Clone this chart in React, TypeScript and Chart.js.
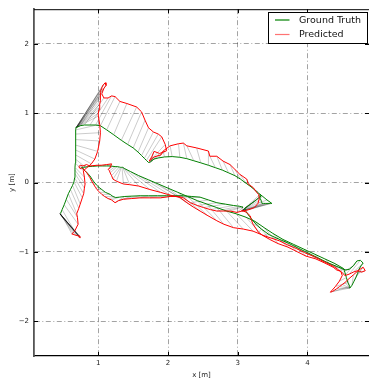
import React, { useEffect, useRef } from 'react';
import { Chart, registerables } from 'chart.js';

Chart.register(...registerables);

// ---- data (metres) ----
const xTicks = [1, 2, 3, 4];
const yTicks = [-2, -1, 0, 1, 2];
const xRange = [0.077, 4.884];
const yRange = [-2.5, 2.5];
const seriesNames = ['Ground Truth', 'Predicted'];

// ground-truth trajectory (matched sample-by-sample with predicted)
const groundTruth: [number, number][] = [
  // start, left vertical
  [0.45,-0.45],[0.45,-0.45],[0.45,-0.45],[0.45,-0.45],[0.45,-0.45],[0.45,-0.45],[0.45,-0.45],[0.45,-0.45],[0.45,-0.45],[0.45,-0.45],
  [0.45,-0.45],[0.45,-0.45],[0.45,-0.45],[0.46,-0.44],[0.48,-0.39],[0.51,-0.32],[0.54,-0.24],[0.57,-0.16],
  [0.60,-0.10],[0.63,-0.04],[0.65,0.01],[0.66,0.07],[0.665,0.13],[0.665,0.18],[0.665,0.22],[0.67,0.28],[0.67,0.34],[0.672,0.40],
  [0.674,0.47],[0.676,0.54],[0.677,0.62],[0.678,0.70],[0.679,0.76],[0.68,0.79],[0.68,0.79],[0.68,0.79],[0.68,0.79],[0.68,0.79],
  [0.68,0.79],[0.68,0.79],[0.68,0.79],[0.68,0.79],[0.68,0.79],[0.68,0.79],[0.68,0.79],[0.68,0.79],[0.69,0.795],
  // upper curve
  [0.70,0.80],[0.74,0.82],[0.80,0.83],[0.88,0.83],[0.96,0.83],[1.03,0.82],[1.12,0.76],[1.22,0.69],[1.33,0.61],[1.42,0.55],
  [1.50,0.50],[1.57,0.44],[1.62,0.39],[1.66,0.35],[1.69,0.32],[1.72,0.29],[1.73,0.29],[1.74,0.29],[1.75,0.30],[1.76,0.31],
  [1.77,0.32],[1.80,0.34],[1.86,0.355],[1.95,0.37],[2.06,0.375],[2.17,0.365],[2.27,0.345],[2.37,0.315],[2.47,0.285],[2.58,0.25],
  [2.68,0.215],[2.78,0.18],[2.87,0.14],[2.96,0.10],[3.04,0.05],[3.12,-0.01],[3.19,-0.06],[3.25,-0.11],[3.30,-0.15],[3.32,-0.17],[3.32,-0.17],
  // triangle
  [3.36,-0.20],[3.42,-0.25],[3.49,-0.30],[3.47,-0.30],[3.45,-0.30],[3.42,-0.30],[3.40,-0.30],[3.37,-0.30],[3.35,-0.30],[3.34,-0.27],
  [3.33,-0.24],[3.32,-0.20],[3.32,-0.17],[3.34,-0.19],[3.30,-0.22],[3.27,-0.25],[3.24,-0.27],[3.17,-0.32],[3.10,-0.37],
  // down to bottom right
  [3.12,-0.42],[3.17,-0.49],[3.22,-0.55],[3.28,-0.62],[3.34,-0.67],[3.45,-0.75],[3.58,-0.81],[3.72,-0.87],[3.86,-0.94],[4.00,-1.01],
  [4.14,-1.08],[4.28,-1.15],[4.40,-1.20],[4.50,-1.24],
  // bottom-right cluster
  [4.55,-1.26],[4.60,-1.25],[4.66,-1.20],[4.71,-1.13],[4.76,-1.12],[4.80,-1.16],[4.77,-1.20],[4.74,-1.25],[4.72,-1.31],[4.70,-1.36],
  [4.67,-1.42],[4.64,-1.48],[4.61,-1.52],[4.61,-1.52],[4.61,-1.52],[4.61,-1.52],[4.61,-1.52],[4.61,-1.52],[4.60,-1.50],[4.58,-1.44],
  [4.56,-1.37],[4.54,-1.30],[4.52,-1.24],
  // back up-left
  [4.40,-1.17],[4.25,-1.10],[4.10,-1.03],[3.95,-0.96],[3.80,-0.89],[3.65,-0.82],[3.50,-0.73],[3.38,-0.65],[3.25,-0.56],[3.12,-0.50],
  [2.98,-0.45],[2.84,-0.41],[2.70,-0.36],[2.56,-0.31],[2.42,-0.26],[2.28,-0.20],[2.14,-0.14],[2.00,-0.08],[1.86,-0.02],[1.72,0.04],
  [1.58,0.10],[1.46,0.16],[1.38,0.20],[1.35,0.22],[1.35,0.22],[1.34,0.22],[1.33,0.22],[1.32,0.22],[1.30,0.225],[1.27,0.23],[1.24,0.23],[1.21,0.235],
  // short horizontal
  [1.17,0.24],[1.12,0.24],[1.06,0.24],[0.99,0.24],[0.92,0.235],[0.85,0.23],[0.79,0.22],[0.76,0.22],[0.76,0.22],[0.76,0.22],[0.77,0.21],
  // lower horizontal
  [0.78,0.20],[0.81,0.17],[0.85,0.13],[0.88,0.096],[0.91,0.05],[0.93,0.02],[0.97,-0.03],[1.01,-0.07],[1.05,-0.10],[1.10,-0.14],
  [1.17,-0.17],[1.21,-0.20],[1.25,-0.215],[1.30,-0.21],[1.38,-0.20],[1.48,-0.195],[1.60,-0.19],[1.72,-0.19],[1.85,-0.19],[1.98,-0.19],
  [2.10,-0.19],[2.22,-0.19],[2.34,-0.20],[2.46,-0.21],[2.58,-0.25],[2.70,-0.29],[2.82,-0.31],[2.94,-0.33],[3.02,-0.34],[3.06,-0.35],
  [3.07,-0.35],[3.07,-0.36],[3.07,-0.36],
];

const predicted: [number, number][] = [
  [0.74,-0.80],[0.74,-0.79],[0.74,-0.79],[0.73,-0.79],[0.74,-0.78],[0.73,-0.78],[0.73,-0.78],[0.72,-0.78],[0.73,-0.77],[0.72,-0.77],
  [0.71,-0.77],[0.68,-0.76],[0.65,-0.75],[0.62,-0.74],[0.66,-0.70],[0.71,-0.60],[0.70,-0.50],[0.69,-0.45],
  [0.72,-0.37],[0.74,-0.31],[0.77,-0.22],[0.79,-0.16],[0.80,-0.08],[0.81,-0.02],[0.80,0.08],[0.785,0.17],[0.83,0.21],[0.90,0.27],
  [0.95,0.34],[0.99,0.45],[1.02,0.60],[1.03,0.72],[1.02,0.84],[1.00,0.96],[1.00,1.00],[1.01,1.05],[1.02,1.09],[1.02,1.13],
  [1.03,1.18],[1.03,1.22],[1.03,1.26],[1.03,1.30],[1.04,1.34],[1.05,1.37],[1.07,1.41],[1.10,1.44],[1.11,1.40],
  [1.08,1.36],[1.05,1.28],[1.08,1.22],[1.14,1.22],[1.19,1.25],[1.24,1.24],[1.31,1.17],[1.41,1.14],[1.55,1.09],[1.62,1.02],
  [1.67,0.90],[1.72,0.79],[1.79,0.73],[1.86,0.70],[1.91,0.66],[1.96,0.55],[1.98,0.46],[1.88,0.42],[1.80,0.45],[1.77,0.38],
  [1.73,0.31],[1.80,0.37],[1.90,0.40],[1.93,0.455],[2.03,0.53],[2.15,0.56],[2.22,0.57],[2.27,0.53],[2.41,0.50],[2.58,0.455],
  [2.60,0.38],[2.70,0.38],[2.79,0.31],[2.89,0.26],[2.96,0.19],[3.03,0.12],[3.13,0.05],[3.15,-0.02],[3.22,-0.07],[3.27,-0.14],[3.30,-0.17],
  [3.31,-0.23],[3.29,-0.30],[3.24,-0.36],[3.16,-0.39],[3.08,-0.41],[3.06,-0.41],[3.06,-0.41],[3.06,-0.41],[3.06,-0.41],[3.06,-0.41],
  [3.06,-0.41],[3.06,-0.41],[3.06,-0.41],[3.06,-0.41],[3.06,-0.41],[3.06,-0.41],[3.06,-0.40],[3.07,-0.40],[3.08,-0.41],
  [3.13,-0.43],[3.18,-0.48],[3.20,-0.55],[3.22,-0.60],[3.30,-0.72],[3.36,-0.76],[3.48,-0.80],[3.60,-0.84],[3.72,-0.90],[3.84,-0.95],
  [3.96,-1.01],[4.08,-1.06],[4.18,-1.11],[4.28,-1.16],
  [4.38,-1.21],[4.45,-1.26],[4.50,-1.30],[4.54,-1.34],[4.60,-1.32],[4.66,-1.29],[4.72,-1.27],[4.78,-1.29],[4.83,-1.27],[4.80,-1.22],
  [4.74,-1.26],[4.66,-1.33],[4.58,-1.40],[4.54,-1.44],[4.50,-1.47],[4.46,-1.50],[4.42,-1.53],[4.36,-1.57],[4.33,-1.58],[4.40,-1.50],
  [4.46,-1.42],[4.50,-1.34],[4.48,-1.28],
  [4.42,-1.26],[4.37,-1.22],[4.25,-1.16],[4.12,-1.10],[3.98,-1.06],[3.86,-1.00],[3.72,-0.93],[3.58,-0.88],[3.46,-0.82],[3.34,-0.75],
  [3.22,-0.70],[3.08,-0.67],[2.94,-0.65],[2.80,-0.60],[2.70,-0.55],[2.56,-0.47],[2.46,-0.41],[2.36,-0.35],[2.27,-0.29],[2.17,-0.215],
  [2.03,-0.18],[1.89,-0.14],[1.74,-0.10],[1.58,-0.05],[1.45,-0.03],[1.36,-0.02],[1.26,0.02],[1.21,0.05],[1.19,0.10],[1.17,0.14],[1.16,0.17],[1.14,0.19],
  [1.17,0.215],[1.19,0.27],[1.12,0.26],[1.04,0.25],[0.98,0.25],[0.88,0.24],[0.83,0.26],[0.78,0.24],[0.74,0.25],[0.72,0.23],[0.74,0.20],
  [0.76,0.21],[0.80,0.18],[0.834,0.143],[0.86,0.10],[0.88,0.07],[0.905,0.02],[0.93,-0.02],[0.96,-0.07],[0.98,-0.10],[1.02,-0.14],
  [1.05,-0.17],[1.09,-0.20],[1.14,-0.23],[1.19,-0.25],[1.24,-0.29],[1.29,-0.26],[1.36,-0.24],[1.48,-0.23],[1.60,-0.22],[1.74,-0.22],
  [1.89,-0.22],[2.03,-0.20],[2.15,-0.20],[2.22,-0.22],[2.32,-0.29],[2.42,-0.33],[2.51,-0.36],[2.61,-0.39],[2.70,-0.41],[2.80,-0.41],
  [2.89,-0.41],[2.99,-0.43],[3.06,-0.41],
];

const GT_COLOR = '#008000';
const PRED_COLOR = '#ff0000';
const LINK_COLOR = 'rgba(0,0,0,0.26)';
const FONT = '"DejaVu Sans", sans-serif';

const fmt = (v: number) => (v < 0 ? '\u2212' + Math.abs(v) : String(v));

const framePlugin = {
  id: 'frame',
  afterDraw(chart: any) {
    const { ctx, chartArea: a, scales } = chart;
    ctx.save();
    const line = (x1: number, y1: number, x2: number, y2: number) => {
      ctx.beginPath();
      ctx.moveTo(x1, y1);
      ctx.lineTo(x2, y2);
      ctx.stroke();
    };
    ctx.strokeStyle = '#000';
    ctx.lineWidth = 1;
    line(a.left, a.top + 0.5, a.right, a.top + 0.5);
    xTicks.forEach((v) => {
      const px = Math.round(scales.x.getPixelForValue(v)) + 0.5;
      line(px, a.bottom, px, a.bottom - 4);
      line(px, a.top, px, a.top + 4);
    });
    yTicks.forEach((v) => {
      const py = Math.round(scales.y.getPixelForValue(v)) + 0.5;
      line(a.left, py, a.left + 4, py);
      line(a.right, py, a.right - 4, py);
    });
    // legend
    const bx = 268.5, by = 12.5, bw = 99, bh = 31;
    ctx.fillStyle = '#fff';
    ctx.fillRect(bx, by, bw, bh);
    ctx.strokeStyle = '#000';
    ctx.lineWidth = 1;
    ctx.strokeRect(bx, by, bw, bh);
    const rows = [
      { name: seriesNames[0], color: GT_COLOR, y: 20 },
      { name: seriesNames[1], color: 'rgba(255,0,0,0.55)', y: 34.5 },
    ];
    ctx.font = `9.5px ${FONT}`;
    ctx.textBaseline = 'middle';
    ctx.textAlign = 'left';
    rows.forEach((r) => {
      ctx.strokeStyle = r.color;
      ctx.lineWidth = 1.2;
      line(275, r.y, 289.5, r.y);
      ctx.fillStyle = '#111';
      ctx.fillText(r.name, 299, r.y + 0.5);
    });
    ctx.restore();
  },
};

export default function App() {
  const ref = useRef<HTMLCanvasElement | null>(null);
  useEffect(() => {
    document.body.style.margin = '0';
    const links: any[] = [];
    groundTruth.forEach((g, i) => {
      const p = predicted[i];
      links.push({ x: g[0], y: g[1] }, { x: p[0], y: p[1] }, { x: g[0], y: null });
    });
    const chart = new Chart(ref.current as HTMLCanvasElement, {
      type: 'line',
      data: {
        datasets: [
          {
            label: seriesNames[1],
            data: predicted.map((p) => ({ x: p[0], y: p[1] })),
            borderColor: PRED_COLOR,
            borderWidth: 1,
            pointRadius: 0,
            tension: 0,
          },
          {
            label: seriesNames[0],
            data: groundTruth.map((p) => ({ x: p[0], y: p[1] })),
            borderColor: GT_COLOR,
            borderWidth: 1,
            pointRadius: 0,
            tension: 0,
          },
          {
            label: 'links',
            data: links,
            borderColor: LINK_COLOR,
            borderWidth: 0.8,
            pointRadius: 0,
            tension: 0,
            spanGaps: false,
            segment: { borderColor: () => LINK_COLOR },
          } as any,
        ],
      },
      options: {
        animation: false,
        responsive: false,
        devicePixelRatio: 1,
        layout: { padding: { top: 7, right: 0, left: 0, bottom: 0 } },
        plugins: { legend: { display: false }, tooltip: { enabled: false } },
        events: [],
        scales: {
          x: {
            type: 'linear',
            min: xRange[0],
            max: xRange[1],
            afterFit: (s: any) => { s.height = 23; },
            afterBuildTicks: (s: any) => { s.ticks = xTicks.map((v) => ({ value: v })); },
            ticks: { callback: (v: any) => fmt(Number(v)), font: { family: FONT, size: 7 }, color: '#222', padding: 3, maxRotation: 0 },
            grid: { color: 'rgba(0,0,0,0.36)', lineWidth: 1, drawTicks: false },
            border: { display: true, color: '#000', width: 1.3, dash: [5, 2.5, 1, 2.5] },
            title: { display: true, text: 'x [m]', font: { family: FONT, size: 7 }, color: '#222', padding: { top: 0, bottom: 0 } },
          },
          y: {
            type: 'linear',
            min: yRange[0],
            max: yRange[1],
            afterFit: (s: any) => { s.width = 34; },
            afterBuildTicks: (s: any) => { s.ticks = yTicks.map((v) => ({ value: v })); },
            ticks: { callback: (v: any) => fmt(Number(v)), font: { family: FONT, size: 7 }, color: '#222', padding: 5 },
            grid: { color: 'rgba(0,0,0,0.36)', lineWidth: 1, drawTicks: false },
            border: { display: true, color: '#555', width: 1.8, dash: [5, 2.5, 1, 2.5] },
            title: { display: true, text: 'y [m]', font: { family: FONT, size: 7 }, color: '#222', padding: { top: 8, bottom: 0 } },
          },
        },
      } as any,
      plugins: [framePlugin],
    });
    return () => chart.destroy();
  }, []);
  return (
    <div style={{ position: 'absolute', left: 0, top: 0, width: 369, height: 379 }}>
      <canvas ref={ref} width={369} height={379} style={{ width: 369, height: 379, display: 'block' }} />
    </div>
  );
}
